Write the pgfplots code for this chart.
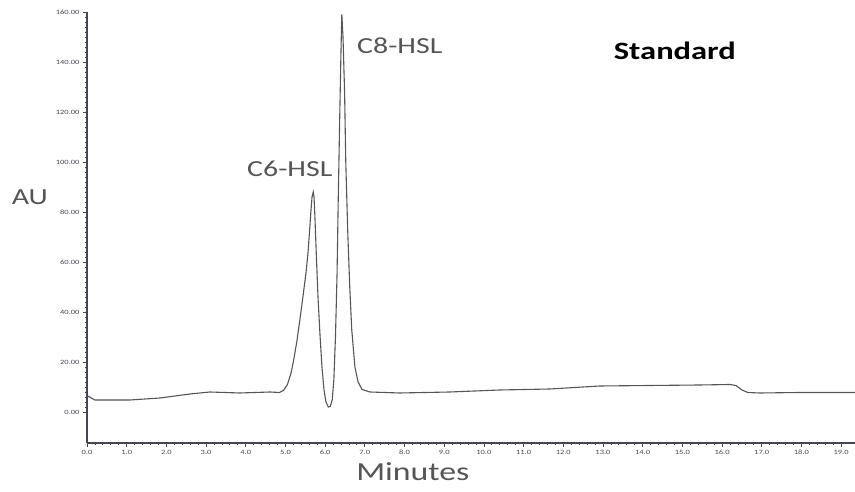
\documentclass[border=0pt]{standalone}
\usepackage{fontspec}
\setmainfont{Carlito}[FakeStretch=1.3]
\usepackage{pgfplots}
\pgfplotsset{compat=1.18}
\definecolor{trace}{RGB}{85,85,85}
\definecolor{axisgray}{RGB}{70,70,80}
\definecolor{labgray}{RGB}{85,85,85}

\begin{document}
\begin{tikzpicture}
\path[use as bounding box] (0,0) rectangle (855pt,492pt);
\begin{axis}[
  at={(87pt,49pt)}, anchor=south west,
  scale only axis, width=768pt, height=431pt,
  xmin=0, xmax=19.35, ymin=-12.4, ymax=160,
  axis lines*=left, axis line style={-, axisgray, line width=1.2pt},
  xtick={0,1,...,19}, ytick={0,20,...,160},
  minor x tick num=4, minor y tick num=9,
  tick align=outside,
  major tick length=4pt, minor tick length=2pt,
  tick style={axisgray, line width=0.8pt},
  /pgf/number format/assume math mode=true,
  xticklabel style={font=\fontsize{6.5}{6.5}\selectfont, text=axisgray, /pgf/number format/.cd, fixed, fixed zerofill, precision=1},
  yticklabel style={font=\fontsize{6.5}{6.5}\selectfont, text=axisgray, /pgf/number format/.cd, fixed, fixed zerofill, precision=2},
  clip=false,
]
\addplot[trace, line width=1.1pt] coordinates {
(0.02,6.4) (0.2,4.8) (1.08,4.8) (1.84,5.6) (2.59,7.2) (3.10,8.0) (3.85,7.6)
(4.61,8.0) (4.85,7.8) (4.95,8.6) (5.05,11) (5.14,15.5) (5.21,21) (5.29,28.5)
(5.36,36.5) (5.44,46) (5.52,56) (5.57,64) (5.61,73) (5.64,80) (5.67,86)
(5.70,88) (5.72,86) (5.74,79) (5.78,62) (5.82,46) (5.87,31) (5.92,18)
(5.97,9) (6.02,4) (6.08,2) (6.13,2.2) (6.18,5) (6.22,13) (6.26,30) (6.30,55)
(6.33,85) (6.37,120) (6.40,145) (6.42,159) (6.45,150) (6.49,128) (6.52,100)
(6.57,72) (6.62,50) (6.67,33) (6.75,18) (6.83,12) (6.93,9) (7.13,8)
(7.88,7.6) (9.14,8.0) (10.40,8.8) (11.66,9.2) (12.92,10.4) (14.18,10.6)
(15.44,10.8) (16.20,11.0) (16.35,10.6) (16.50,8.8) (16.65,7.8) (16.95,7.6)
(17.96,7.8) (19.35,7.8)
};
\node[text=labgray, font=\fontsize{23}{23}\selectfont] at (axis cs:-1.44,86) {AU};
\node[text=labgray, font=\fontsize{26}{26}\selectfont] at (axis cs:8.21,-24) {Minutes};
\node[text=labgray, font=\fontsize{23}{23}\selectfont] at (axis cs:5.11,97.2) {C6-HSL};
\node[text=labgray, font=\fontsize{23}{23}\selectfont] at (axis cs:7.88,146.4) {C8-HSL};
\node[text=black, font=\fontsize{25}{25}\selectfont\bfseries] at (axis cs:14.81,144.4) {Standard};
\end{axis}
\end{tikzpicture}
\end{document}
